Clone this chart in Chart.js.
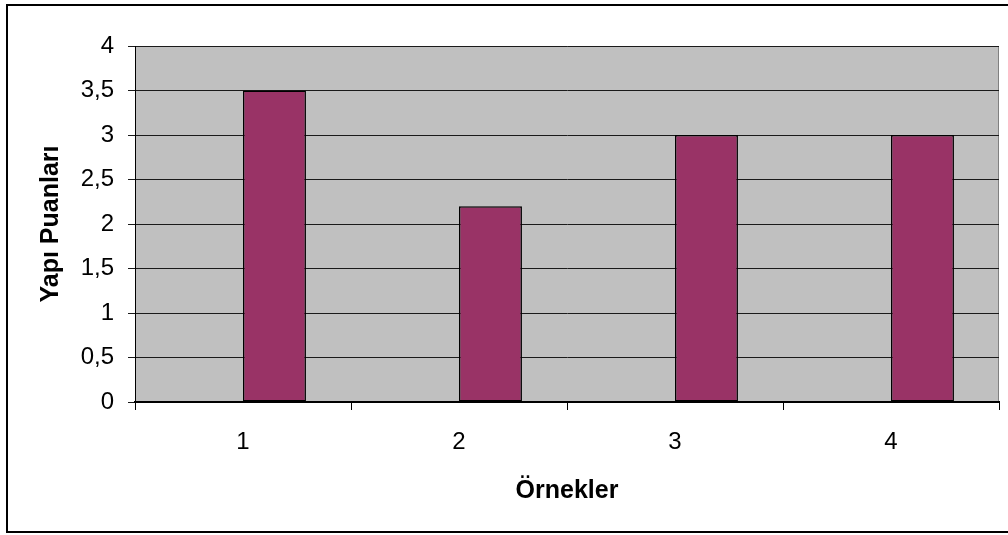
<!DOCTYPE html>
<html>
<head>
<meta charset="utf-8">
<script src="https://cdn.jsdelivr.net/npm/chart.js@4.4.1/dist/chart.umd.min.js"></script>
<style>
  html, body { margin: 0; padding: 0; background: #fff; }
  #wrap { width: 1008px; height: 535px; }
</style>
</head>
<body>
<div id="wrap"><canvas id="c" width="1008" height="535"></canvas></div>
<script>
// Sample numbers along the category axis
const categories = ['1', '2', '3', '4'];
// Structure scores per sample
const yapiPuanlari = [3.5, 2.2, 3, 3];
// Companion series with no values (keeps the bar in the right-hand slot of each group)
const emptySeries = [null, null, null, null];
// Value axis labels (decimal comma)
const yTickLabels = ['0', '0,5', '1', '1,5', '2', '2,5', '3', '3,5', '4'];

const FONT = '"Liberation Sans", Arial, sans-serif';

const framePlugin = {
  id: 'frame',
  beforeDraw(chart) {
    const { ctx, chartArea: a } = chart;
    ctx.save();
    ctx.fillStyle = '#ffffff';
    ctx.fillRect(0, 0, chart.width, chart.height);
    ctx.fillStyle = '#c0c0c0';
    ctx.fillRect(a.left, a.top, a.right - a.left, a.bottom - a.top);
    ctx.strokeStyle = '#808080';
    ctx.lineWidth = 1;
    ctx.strokeRect(a.left + 0.5, a.top + 0.5, a.right - a.left - 1, a.bottom - a.top - 1);
    ctx.restore();
  },
  afterDraw(chart) {
    const ctx = chart.ctx;
    ctx.save();
    ctx.strokeStyle = '#000';
    ctx.lineWidth = 2;
    ctx.strokeRect(7, 5, 1010, 527);
    ctx.restore();
  }
};

new Chart(document.getElementById('c'), {
  type: 'bar',
  data: {
    labels: categories,
    datasets: [
      {
        data: emptySeries,
        backgroundColor: '#9999ff'
      },
      {
        data: yapiPuanlari,
        backgroundColor: '#993366',
        borderColor: '#000000',
        borderWidth: 1.5,
        borderSkipped: false
      }
    ]
  },
  options: {
    responsive: false,
    animation: false,
    events: [],
    categoryPercentage: 0.583,
    barPercentage: 1,
    layout: { padding: { top: 46, right: 9, left: 0, bottom: 0 } },
    plugins: {
      legend: { display: false },
      tooltip: { enabled: false }
    },
    scales: {
      x: {
        afterFit(scale) { scale.height = 133; },
        grid: {
          offset: true,
          drawOnChartArea: false,
          tickLength: 8,
          color: '#000',
          lineWidth: 1
        },
        border: { color: '#000', width: 2 },
        ticks: {
          color: '#000',
          padding: 18,
          font: { family: FONT, size: 24 }
        },
        title: {
          display: true,
          text: 'Örnekler',
          color: '#000',
          font: { family: FONT, size: 25, weight: 'bold' },
          padding: { top: 0, bottom: 29 }
        }
      },
      y: {
        min: 0,
        max: 4,
        afterFit(scale) { scale.width = 135; },
        grid: {
          color: '#1a1a1a',
          lineWidth: 1,
          tickLength: 7
        },
        border: { color: '#000', width: 1 },
        ticks: {
          stepSize: 0.5,
          color: '#000',
          padding: 14,
          font: { family: FONT, size: 24 },
          callback: (value, index) => yTickLabels[index]
        },
        title: {
          display: true,
          text: 'Yapı Puanları',
          color: '#000',
          font: { family: FONT, size: 25, weight: 'bold' },
          padding: { top: 36, bottom: 0 }
        }
      }
    }
  },
  plugins: [framePlugin]
});
</script>
</body>
</html>
